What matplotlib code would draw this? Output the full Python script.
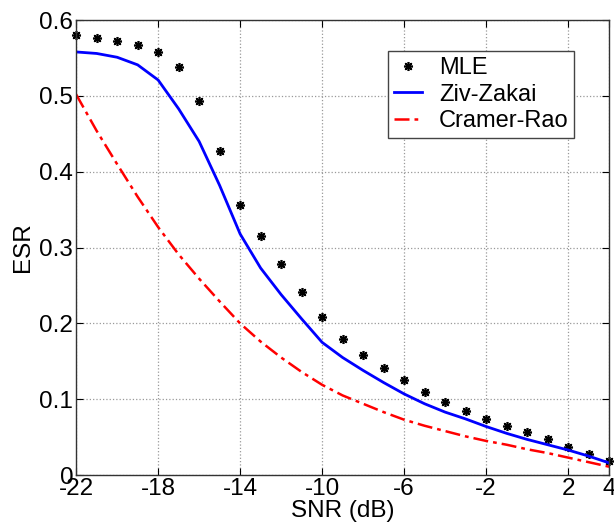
import numpy as np
import matplotlib.pyplot as plt

plt.rcParams['font.family'] = ['Liberation Sans', 'DejaVu Sans']

## 데이터
snr = np.arange(-22, 5)  # -22 ~ 4 dB
mle = [0.580, 0.576, 0.572, 0.567, 0.558, 0.538, 0.493, 0.427, 0.356, 0.315,
       0.278, 0.241, 0.209, 0.179, 0.158, 0.141, 0.126, 0.110, 0.096, 0.085,
       0.074, 0.065, 0.057, 0.048, 0.037, 0.028, 0.019]
ziv_zakai = [0.558, 0.556, 0.551, 0.541, 0.521, 0.483, 0.440, 0.382, 0.318, 0.273,
             0.238, 0.206, 0.175, 0.155, 0.138, 0.122, 0.107, 0.094, 0.083, 0.074,
             0.064, 0.055, 0.047, 0.040, 0.033, 0.025, 0.016]
cramer_rao = [0.502, 0.454, 0.410, 0.367, 0.327, 0.291, 0.259, 0.229, 0.200, 0.176,
              0.155, 0.136, 0.119, 0.105, 0.094, 0.083, 0.073, 0.065, 0.058, 0.051,
              0.045, 0.040, 0.034, 0.029, 0.023, 0.017, 0.011]

xticks = [-22, -18, -14, -10, -6, -2, 2, 4]
yticks = [0, 0.1, 0.2, 0.3, 0.4, 0.5, 0.6]
ytick_labels = ['0', '0.1', '0.2', '0.3', '0.4', '0.5', '0.6']

## 그림
fig = plt.figure(figsize=(6.14, 5.29), dpi=100)
ax = fig.add_axes([0.124, 0.102, 0.868, 0.860])

ax.plot(snr, mle, linestyle='none', marker=(8, 2, 0), markersize=6.5,
        markeredgewidth=1.2, color='black', label='MLE', clip_on=False)
ax.plot(snr, ziv_zakai, color='#0000ff', linewidth=2, label='Ziv-Zakai')
ax.plot(snr, cramer_rao, color='#ff0000', linewidth=1.8, linestyle='-.',
        dashes=(6, 2, 1.5, 2), label='Cramer-Rao')

ax.set_xlim(-22, 4)
ax.set_ylim(0, 0.6)
ax.set_xticks(xticks)
ax.set_xticklabels([str(t) for t in xticks])
ax.set_yticks(yticks)
ax.set_yticklabels(ytick_labels)
ax.tick_params(direction='in', top=True, right=True, labelsize=17.5, length=5, pad=2)
ax.grid(True, linestyle=':', color='#999999', linewidth=0.9)
for s in ax.spines.values():
    s.set_linewidth(1.0)
    s.set_color('#333333')

ax.set_xlabel('SNR (dB)', fontsize=17.5, labelpad=0)
ax.set_ylabel('ESR', fontsize=17.5, labelpad=4)

leg = ax.legend(loc='upper right', bbox_to_anchor=(0.935, 0.932), fontsize=17,
                fancybox=False, framealpha=1, edgecolor='#444444',
                handlelength=1.2, handletextpad=0.7, borderpad=0.25,
                labelspacing=0.2, borderaxespad=0)
leg.get_frame().set_linewidth(1.0)

fig.savefig('out.png', dpi=100)
